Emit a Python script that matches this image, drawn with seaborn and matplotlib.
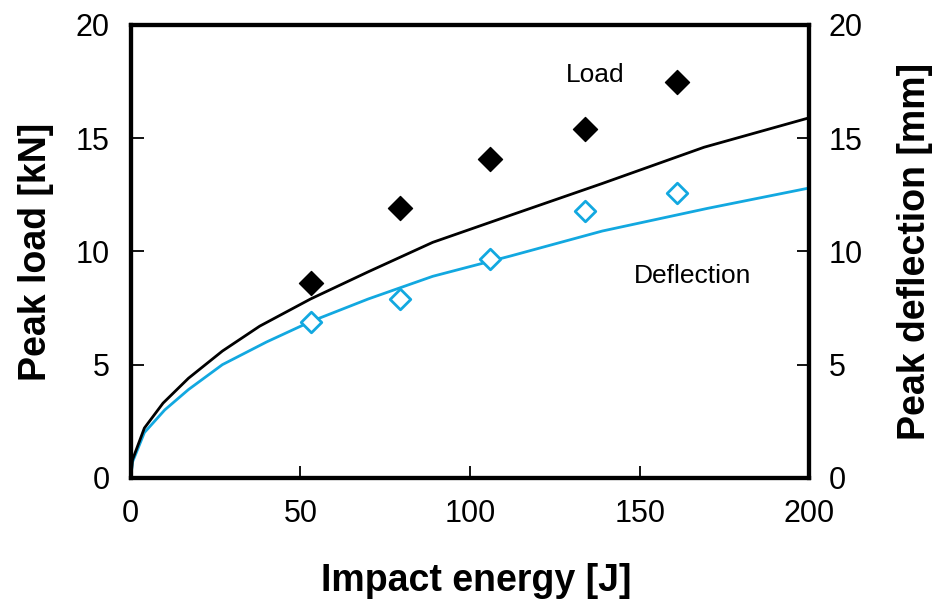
import matplotlib
matplotlib.use("Agg")
import matplotlib.pyplot as plt
import seaborn as sns

# Measured points
energy_pts = [53, 79.5, 106, 134, 161]
load_pts = [8.6, 11.9, 14.1, 15.4, 17.5]
defl_pts = [6.9, 7.9, 9.65, 11.8, 12.6]

# Fitted curves
load_curve_x = [0, 0.5, 4, 9.5, 17, 27, 38, 53, 70, 89, 112, 139, 169, 200]
load_curve_y = [0, 0.8, 2.2, 3.3, 4.4, 5.6, 6.7, 7.9, 9.1, 10.4, 11.6, 13.0, 14.6, 15.9]
defl_curve_x = [0, 0.5, 4, 10, 17, 27, 40, 53, 70, 89, 112, 139, 170, 200]
defl_curve_y = [0, 0.7, 2.0, 3.0, 3.9, 5.0, 6.0, 6.9, 7.9, 8.9, 9.8, 10.9, 11.9, 12.8]

x_ticks = [0, 50, 100, 150, 200]
y_ticks = [0, 5, 10, 15, 20]

sns.set_theme(style="white")
plt.rcParams['font.family'] = ['Liberation Sans', 'DejaVu Sans']
plt.rcParams['text.color'] = 'black'
plt.rcParams['axes.labelcolor'] = 'black'
plt.rcParams['xtick.color'] = 'black'
plt.rcParams['ytick.color'] = 'black'

fig = plt.figure(figsize=(9.41, 6.08), dpi=100)
ax = fig.add_axes([0.139, 0.214, 0.721, 0.745])
ax2 = ax.twinx()

cyan = "#12a8e0"

sns.lineplot(x=defl_curve_x, y=defl_curve_y, ax=ax2, color=cyan, lw=2, sort=False)
sns.scatterplot(x=energy_pts, y=defl_pts, ax=ax2, marker="D", s=110, facecolor="white",
                edgecolor=cyan, linewidth=2, zorder=5)

for a in (ax, ax2):
    a.set_xlim(0, 200)
    a.set_ylim(0, 20)
    a.set_yticks(y_ticks)

ax.set_xticks(x_ticks)
ax.tick_params(axis="x", direction="in", length=9, width=1.3, labelsize=22, pad=15,
               bottom=True, top=False)
ax.tick_params(axis="y", direction="in", length=9, width=1.3, labelsize=22, pad=15,
               left=True, right=False)
ax2.tick_params(axis="y", direction="in", length=9, width=1.3, labelsize=22, pad=14,
                right=True, left=False)
ax2.tick_params(axis="x", bottom=False, top=False)

ax.set_xlabel("Impact energy [J]", fontsize=27, fontweight="bold")
ax.set_ylabel("Peak load [kN]", fontsize=27, fontweight="bold")
ax2.set_ylabel("Peak deflection [mm]", fontsize=27, fontweight="bold")
ax.xaxis.set_label_coords(0.509, -0.189)
ax.yaxis.set_label_coords(-0.113, 0.5)
ax2.yaxis.set_label_coords(1.13, 0.5)

for a in (ax, ax2):
    for side in ("left", "bottom", "right", "top"):
        a.spines[side].set_linewidth(3)
        a.spines[side].set_color("black")

# black curve & load points drawn on a top layer so black sits over cyan near origin
ax_top = ax.twinx()
ax_top.set_ylim(0, 20)
ax_top.axis("off")
sns.lineplot(x=load_curve_x, y=load_curve_y, ax=ax_top, color="black", lw=2, sort=False)
sns.scatterplot(x=energy_pts, y=load_pts, ax=ax_top, marker="D", s=150, color="black",
                edgecolor="black", zorder=5)
ax_top.set_xlim(0, 200)

ax.text(137, 17.8, "Load", fontsize=19, ha="center", va="center", color="black")
ax.text(165.5, 8.9, "Deflection", fontsize=19, ha="center", va="center", color="black")

fig.savefig("out.png", dpi=100)
